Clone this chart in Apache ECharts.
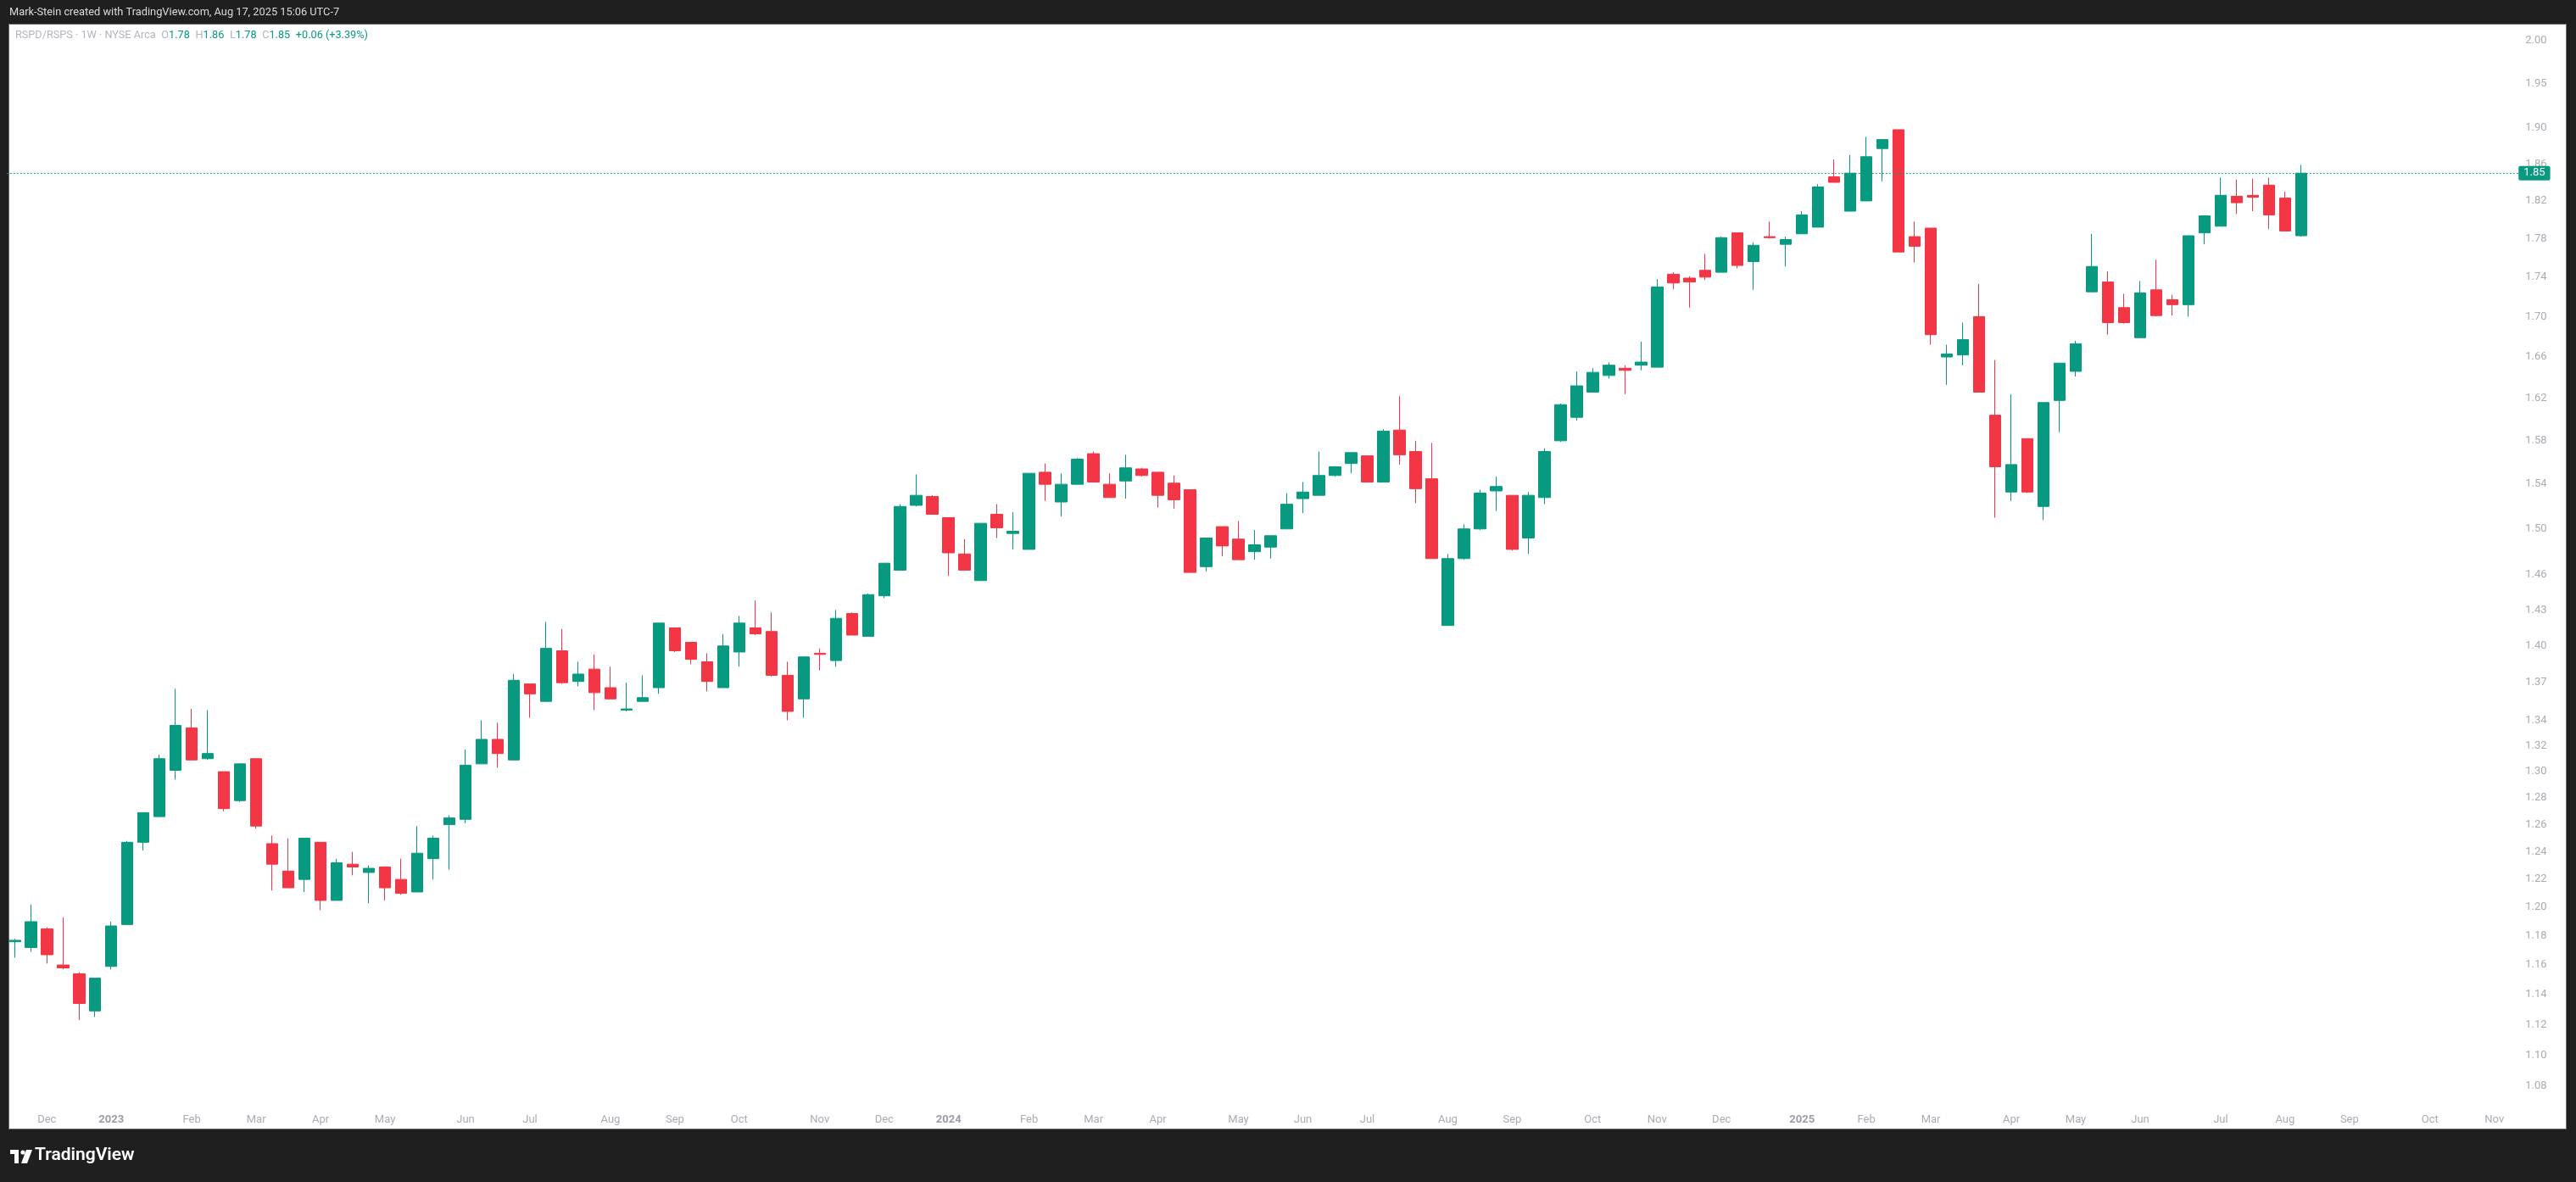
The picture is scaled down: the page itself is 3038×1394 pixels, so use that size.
<!DOCTYPE html>
<html><head><meta charset="utf-8">
<script src="https://cdn.jsdelivr.net/npm/echarts@6/dist/echarts.min.js"></script>
<style>
html,body{margin:0;padding:0;background:#1f1f1f;overflow:hidden;}
#panel{position:absolute;left:10px;top:28px;width:3017px;height:1304px;background:#fff;border:1px solid #6e6e6e;box-sizing:border-box;}
#c{position:absolute;left:0;top:0;width:3038px;height:1394px;}
</style>
</head><body><div id="panel"></div><div id="c"></div>
<script>
// Weekly candle dates (Mondays); the last 13 are empty future slots
const weeks = [
'2022-11-21','2022-11-28','2022-12-05','2022-12-12','2022-12-19','2022-12-26',
'2023-01-02','2023-01-09','2023-01-16','2023-01-23','2023-01-30','2023-02-06','2023-02-13','2023-02-20','2023-02-27',
'2023-03-06','2023-03-13','2023-03-20','2023-03-27','2023-04-03','2023-04-10','2023-04-17','2023-04-24','2023-05-01',
'2023-05-08','2023-05-15','2023-05-22','2023-05-29','2023-06-05','2023-06-12','2023-06-19','2023-06-26','2023-07-03',
'2023-07-10','2023-07-17','2023-07-24','2023-07-31','2023-08-07','2023-08-14','2023-08-21','2023-08-28','2023-09-04',
'2023-09-11','2023-09-18','2023-09-25','2023-10-02','2023-10-09','2023-10-16','2023-10-23','2023-10-30','2023-11-06',
'2023-11-13','2023-11-20','2023-11-27','2023-12-04','2023-12-11','2023-12-18','2023-12-25',
'2024-01-01','2024-01-08','2024-01-15','2024-01-22','2024-01-29','2024-02-05','2024-02-12','2024-02-19','2024-02-26',
'2024-03-04','2024-03-11','2024-03-18','2024-03-25','2024-04-01','2024-04-08','2024-04-15','2024-04-22','2024-04-29',
'2024-05-06','2024-05-13','2024-05-20','2024-05-27','2024-06-03','2024-06-10','2024-06-17','2024-06-24','2024-07-01',
'2024-07-08','2024-07-15','2024-07-22','2024-07-29','2024-08-05','2024-08-12','2024-08-19','2024-08-26','2024-09-02',
'2024-09-09','2024-09-16','2024-09-23','2024-09-30','2024-10-07','2024-10-14','2024-10-21','2024-10-28','2024-11-04',
'2024-11-11','2024-11-18','2024-11-25','2024-12-02','2024-12-09','2024-12-16','2024-12-23','2024-12-30',
'2025-01-06','2025-01-13','2025-01-20','2025-01-27','2025-02-03','2025-02-10','2025-02-17','2025-02-24','2025-03-03',
'2025-03-10','2025-03-17','2025-03-24','2025-03-31','2025-04-07','2025-04-14','2025-04-21','2025-04-28','2025-05-05',
'2025-05-12','2025-05-19','2025-05-26','2025-06-02','2025-06-09','2025-06-16','2025-06-23','2025-06-30','2025-07-07',
'2025-07-14','2025-07-21','2025-07-28','2025-08-04','2025-08-11',
'2025-08-18','2025-08-25','2025-09-01','2025-09-08','2025-09-15','2025-09-22','2025-09-29','2025-10-06','2025-10-13',
'2025-10-20','2025-10-27','2025-11-03','2025-11-10'
];

const opens = [
1.176,1.172,1.185,1.160,1.154,1.129,1.159,1.188,1.247,1.266,1.301,1.334,1.310,1.300,1.278,1.310,1.246,1.226,1.220,1.247,
1.205,1.231,1.225,1.229,1.220,1.211,1.235,1.260,1.264,1.306,1.325,1.309,1.369,1.355,1.396,1.371,1.381,1.366,1.348,1.355,
1.366,1.415,1.403,1.387,1.366,1.395,1.415,1.412,1.376,1.357,1.394,1.388,1.427,1.408,1.442,1.464,1.521,1.529,1.510,1.478,
1.455,1.513,1.496,1.482,1.551,1.524,1.540,1.568,1.540,1.543,1.554,1.551,1.541,1.535,1.467,1.502,1.491,1.480,1.484,1.500,
1.527,1.530,1.548,1.559,1.566,1.542,1.590,1.570,1.545,1.417,1.474,1.500,1.534,1.530,1.492,1.528,1.580,1.602,1.626,1.642,
1.649,1.652,1.650,1.743,1.739,1.747,1.745,1.786,1.756,1.782,1.774,1.785,1.792,1.846,1.809,1.820,1.877,1.898,1.782,1.791,
1.660,1.662,1.700,1.604,1.533,1.582,1.520,1.618,1.646,1.725,1.735,1.709,1.679,1.727,1.717,1.712,1.786,1.793,1.825,1.826,
1.837,1.823,1.783
];
const highs = [
1.178,1.202,1.186,1.193,1.155,1.151,1.190,1.248,1.269,1.313,1.365,1.349,1.348,1.300,1.306,1.310,1.252,1.250,1.250,1.247,
1.235,1.240,1.230,1.229,1.235,1.259,1.252,1.267,1.317,1.340,1.338,1.377,1.369,1.420,1.414,1.387,1.393,1.383,1.370,1.376,
1.419,1.415,1.403,1.394,1.410,1.425,1.438,1.428,1.387,1.391,1.398,1.430,1.428,1.444,1.470,1.522,1.549,1.530,1.510,1.491,
1.505,1.522,1.515,1.550,1.559,1.550,1.564,1.570,1.550,1.567,1.555,1.551,1.548,1.535,1.492,1.502,1.507,1.499,1.494,1.532,
1.542,1.570,1.556,1.569,1.566,1.591,1.622,1.580,1.578,1.478,1.504,1.535,1.547,1.530,1.533,1.573,1.615,1.646,1.649,1.655,
1.652,1.675,1.738,1.745,1.741,1.764,1.782,1.786,1.776,1.798,1.782,1.809,1.838,1.865,1.870,1.890,1.887,1.898,1.798,1.791,
1.672,1.694,1.733,1.657,1.624,1.582,1.616,1.654,1.676,1.785,1.746,1.723,1.736,1.758,1.722,1.783,1.804,1.845,1.843,1.844,
1.845,1.830,1.859
];
const lows = [
1.165,1.169,1.161,1.157,1.123,1.125,1.157,1.188,1.241,1.266,1.294,1.309,1.309,1.270,1.277,1.257,1.212,1.214,1.211,1.198,
1.205,1.223,1.203,1.205,1.209,1.211,1.220,1.227,1.261,1.306,1.303,1.309,1.342,1.355,1.369,1.367,1.348,1.357,1.347,1.355,
1.361,1.395,1.385,1.363,1.366,1.383,1.409,1.375,1.340,1.342,1.380,1.383,1.409,1.408,1.440,1.464,1.520,1.513,1.459,1.464,
1.455,1.492,1.482,1.482,1.525,1.511,1.540,1.542,1.528,1.527,1.547,1.519,1.518,1.462,1.463,1.476,1.473,1.473,1.474,1.500,
1.514,1.530,1.547,1.550,1.542,1.542,1.558,1.523,1.474,1.417,1.473,1.499,1.516,1.481,1.478,1.522,1.579,1.599,1.626,1.639,
1.624,1.647,1.650,1.728,1.709,1.737,1.745,1.749,1.727,1.780,1.751,1.785,1.792,1.840,1.809,1.820,1.841,1.766,1.755,1.672,
1.633,1.652,1.626,1.510,1.525,1.532,1.508,1.588,1.641,1.725,1.682,1.693,1.679,1.700,1.701,1.700,1.774,1.793,1.806,1.809,
1.790,1.788,1.782
];
const closes = [
1.177,1.190,1.167,1.158,1.134,1.151,1.187,1.247,1.269,1.310,1.336,1.309,1.314,1.272,1.306,1.259,1.231,1.214,1.250,1.205,
1.232,1.229,1.228,1.214,1.210,1.239,1.250,1.265,1.305,1.325,1.314,1.372,1.361,1.398,1.370,1.377,1.362,1.357,1.349,1.358,
1.419,1.396,1.389,1.371,1.400,1.419,1.410,1.376,1.347,1.391,1.393,1.423,1.409,1.443,1.470,1.520,1.530,1.513,1.479,1.464,
1.505,1.501,1.498,1.550,1.540,1.540,1.563,1.542,1.528,1.555,1.548,1.530,1.526,1.462,1.492,1.485,1.473,1.486,1.494,1.522,
1.533,1.548,1.556,1.569,1.542,1.589,1.567,1.536,1.474,1.474,1.500,1.532,1.538,1.482,1.530,1.570,1.614,1.632,1.645,1.652,
1.647,1.655,1.730,1.734,1.735,1.740,1.781,1.752,1.773,1.781,1.779,1.805,1.835,1.840,1.850,1.868,1.887,1.766,1.772,1.682,
1.663,1.677,1.626,1.556,1.558,1.533,1.616,1.654,1.673,1.751,1.694,1.694,1.724,1.701,1.712,1.783,1.804,1.826,1.818,1.824,
1.805,1.788,1.850
];

const yTicks = [1.08,1.10,1.12,1.14,1.16,1.18,1.20,1.22,1.24,1.26,1.28,1.30,1.32,1.34,1.37,1.40,1.43,1.46,
1.50,1.54,1.58,1.62,1.66,1.70,1.74,1.78,1.82,1.86,1.90,1.95,2.00];
const priceMin = 1.0698;
const priceMax = 2.0183;
const lastPrice = 1.85;
const monthNames = ['Jan','Feb','Mar','Apr','May','Jun','Jul','Aug','Sep','Oct','Nov','Dec'];

const UP = '#089981', DOWN = '#F23645';
const FONT = 'Roboto';

const candleData = opens.map((o, i) => [o, closes[i], lows[i], highs[i]]);

function monthOf(s){ return +s.slice(5,7); }
function showLabel(i){ return i > 0 && monthOf(weeks[i]) !== monthOf(weeks[i-1]); }

const chart = echarts.init(document.getElementById('c'), null, {renderer:'canvas'});
chart.setOption({
  animation: false,
  backgroundColor: 'transparent',
  textStyle: {fontFamily: FONT},
  grid: {left: 7.8, top: 30, width: 156 * 18.99, height: 1270, containLabel: false},
  xAxis: {
    type: 'category', data: weeks, boundaryGap: true,
    axisLine: {show:false}, axisTick: {show:false}, splitLine: {show:false},
    axisLabel: {
      interval: (i) => showLabel(i),
      margin: 14, fontSize: 13, color: '#a9acb3', fontFamily: FONT,
      formatter: (v) => {
        const m = monthOf(v);
        return m === 1 ? '{y|' + v.slice(0,4) + '}' : monthNames[m-1];
      },
      rich: {y: {fontWeight: 'bold', color: '#9a9da5', fontSize: 13, fontFamily: FONT}}
    }
  },
  yAxis: [
    {type: 'log', logBase: 10, min: priceMin, max: priceMax, show: false, scale: true},
    {type: 'value', position: 'right', min: Math.log(priceMin), max: Math.log(priceMax),
     axisLine:{show:false}, axisTick:{show:false}, splitLine:{show:false},
     axisLabel: {customValues: yTicks.map(v => Math.log(v)), formatter: (v) => Math.exp(v).toFixed(2),
       color: '#a9acb3', fontSize: 13, margin: 8, fontFamily: FONT}}
  ],
  series: [{
    type: 'candlestick', yAxisIndex: 0, data: candleData, barWidth: 14,
    itemStyle: {color: UP, color0: DOWN, borderColor: UP, borderColor0: DOWN, borderWidth: 1},
    markLine: {
      silent: true, symbol: ['none','none'], animation: false,
      lineStyle: {color: UP, type: [2,2], width: 1},
      label: {position: 'end', distance: 0, formatter: lastPrice.toFixed(2), color: '#fff',
        backgroundColor: UP, padding: [2,6,2,6], fontSize: 13, fontFamily: FONT, borderRadius: 2},
      data: [{yAxis: lastPrice}]
    }
  }],
  graphic: [
    {type:'text', left: 11, top: 8, style: {text: 'Mark-Stein created with TradingView.com, Aug 17, 2025 15:06 UTC-7',
      fill: '#dadada', font: '12.8px Roboto'}},
    {type:'text', left: 18, top: 35, style: {
      text: '{g|RSPD/RSPS · 1W · NYSE Arca}  {g|O}{v|1.78}  {g|H}{v|1.86}  {g|L}{v|1.78}  {g|C}{v|1.85}  {v|+0.06 (+3.39%)}',
      rich: {g: {fill: '#b2b5be', font: '12.7px Roboto'}, v: {fill: UP, font: '12.7px Roboto'}}
    }},
    {type:'group', left: 12, top: 1356, children: [
      {type:'rect', shape:{x:0, y:0, width:10, height:5}, style:{fill:'#ffffff'}},
      {type:'rect', shape:{x:5, y:0, width:5, height:16}, style:{fill:'#ffffff'}},
      {type:'circle', shape:{cx:15, cy:3, r:2.6}, style:{fill:'#ffffff'}},
      {type:'polygon', shape:{points:[[19,0],[26,0],[20,16],[13,16]]}, style:{fill:'#ffffff'}}
    ]},
    {type:'text', left: 41, top: 1352, style: {text: 'TradingView', fill: '#ffffff', font: '600 21px Roboto'}}
  ]
});
</script>
</body></html>
